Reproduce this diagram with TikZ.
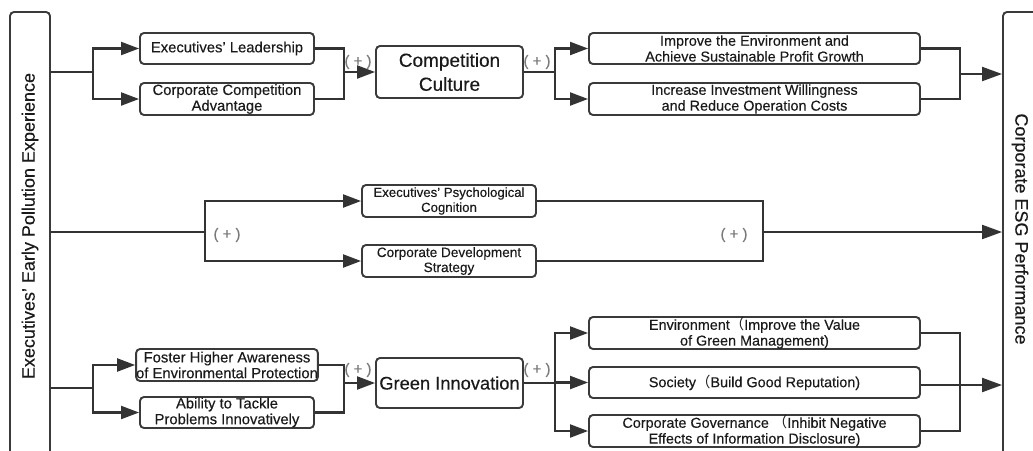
\documentclass[tikz,border=0pt]{standalone}
\usepackage{fontspec}
\setmainfont{Liberation Sans}[FakeBold=0.25]
\newfontfamily\cjk{Noto Sans CJK SC}
\usetikzlibrary{arrows.meta}
\definecolor{boxc}{HTML}{3A3A3A}
\definecolor{linec}{HTML}{333333}
\definecolor{txt}{HTML}{1A1A1A}
\definecolor{plusc}{HTML}{7A7A7A}
\begin{document}
\begin{tikzpicture}[x=1pt,y=-1pt,
  box/.style={draw=boxc, line width=1.9pt, rounded corners=4pt, fill=white, align=center,
    inner sep=0pt, text=txt, font=\fontsize{14.8}{15.8}\selectfont},
  bigbox/.style={box, font=\fontsize{19}{24}\selectfont},
  bar/.style={draw=boxc, line width=1.9pt, rounded corners=4pt, fill=white, inner sep=0pt},
  bartext/.style={text=txt, font=\fontsize{18}{20}\selectfont, inner sep=0pt},
  conn/.style={draw=linec, line width=2.1pt},
  trunk/.style={draw=linec, line width=2.8pt},
  arr/.style={conn, -{Triangle[length=18pt,width=13pt]}},
  bigarr/.style={conn, -{Triangle[length=20pt,width=14pt]}},
  plus/.style={text=plusc, font=\fontsize{15}{15}\selectfont, inner sep=0pt},
]
\useasboundingbox (0,0) rectangle (1033,450);
\fill[white] (0,0) rectangle (1033,450);
\clip (0,0) rectangle (1033,450);

% side bars
\node[bar, minimum width=40pt, minimum height=458pt] (LB) at (30,241) {};
\node[bartext, rotate=90] (LBt) at (30,226) {Executives’ Early Pollution Experience};
\node[bar, minimum width=57pt, minimum height=458pt] (RB) at (1031.5,241) {};
\node[bartext, rotate=-90] (RBt) at (1020,229) {Corporate ESG Performance};

% top group
\node[box, minimum width=174pt, minimum height=31pt] (A1) at (227,48.5) {Executives’ Leadership};
\node[box, minimum width=174pt, minimum height=32pt] (A2) at (227,99) {Corporate Competition\\Advantage};
\node[bigbox, minimum width=147pt, minimum height=52pt] (CC) at (449.5,72) {Competition\\Culture};
\node[box, font=\fontsize{14.4}{15.8}\selectfont, minimum width=331pt, minimum height=31pt] (B1) at (754.5,48.5) {Improve the Environment and\\Achieve Sustainable Profit Growth};
\node[box, font=\fontsize{14.4}{15.8}\selectfont, minimum width=331pt, minimum height=32pt] (B2) at (754.5,99) {Increase Investment Willingness\\and Reduce Operation Costs};

% middle group
\node[box, font=\fontsize{13.2}{15}\selectfont, minimum width=174pt, minimum height=32pt] (M1) at (449,201) {Executives’ Psychological\\Cognition};
\node[box, font=\fontsize{13.6}{15}\selectfont, minimum width=174pt, minimum height=32pt] (M2) at (449,261) {Corporate Development\\Strategy};

% bottom group
\node[box, minimum width=174pt, minimum height=32pt] (C1) at (227,365) {Foster Higher Awareness\\of Environmental Protection};
\node[box, minimum width=174pt, minimum height=31pt] (C2) at (227,412.5) {Ability to Tackle\\Problems Innovatively};
\node[bigbox, font=\fontsize{18.3}{22}\selectfont, minimum width=147pt, minimum height=50pt] (GI) at (449.5,383) {Green Innovation};
\node[box, font=\fontsize{14.4}{15.8}\selectfont, minimum width=331pt, minimum height=32pt] (D1) at (754.5,333) {Environment{\cjk （}Improve the Value\\of Green Management)};
\node[box, font=\fontsize{14.4}{15.8}\selectfont, minimum width=331pt, minimum height=31pt] (D2) at (754.5,382.5) {Society{\cjk （}Build Good Reputation)};
\node[box, font=\fontsize{14.4}{15.8}\selectfont, minimum width=331pt, minimum height=32pt] (D3) at (754.5,431) {Corporate Governance\ {\cjk （}Inhibit Negative\\Effects of Information Disclosure)};

% junction coordinates
\coordinate (jA) at (93,72);
\coordinate (kA) at (344,72);
\coordinate (jB) at (555,72);
\coordinate (kB) at (960,74);
\coordinate (jM) at (205,232);
\coordinate (kM) at (763,232);
\coordinate (jC) at (93,388);
\coordinate (kC) at (344,383);
\coordinate (jD) at (555,383);
\coordinate (kD) at (960,431);

% top connectors
\draw[trunk] (LB.east |- jA) -- (jA);
\draw[arr] (jA) |- (A1.west);
\draw[arr] (jA) |- (A2.west);
\draw[conn] (A1.east) -| (kA);
\draw[conn] (A2.east) -| (kA);
\draw[arr] (kA) -- (CC.west);
\draw[conn] (CC.east) -- (jB);
\draw[arr] (jB) |- (B1.west);
\draw[arr] (jB) |- (B2.west);
\draw[conn] (B1.east) -| (kB);
\draw[conn] (B2.east) -| (kB);
\draw[bigarr] (kB) -- (RB.west |- kB);

% middle connectors
\draw[trunk] (LB.east |- jM) -- (jM);
\draw[arr] (jM) |- (M1.west);
\draw[arr] (jM) |- (M2.west);
\draw[conn] (M1.east) -| (kM);
\draw[conn] (M2.east) -| (kM);
\draw[bigarr] (kM) -- (RB.west |- kM);

% bottom connectors
\draw[trunk] (LB.east |- jC) -- (jC);
\draw[arr] (jC) |- (C1.west);
\draw[arr] (jC) |- (C2.west);
\draw[conn] (C1.east) -| (kC);
\draw[conn] (C2.east) -| (kC);
\draw[arr] (kC) -- (GI.west);
\draw[conn] (GI.east) -- (jD);
\draw[arr] (jD) |- (D1.west);
\draw[arr] (jD) |- (D2.west);
\draw[arr] (jD) |- (D3.west);
\draw[conn] (D1.east) -| (kD) -- (D3.east);
\draw[bigarr] (D2.east |- 0,385) -- (RB.west |- 0,385);

% (+) labels
\node[plus] (p1) at (358,62) {( + )};
\node[plus] (p2) at (537,62) {( + )};
\node[plus] (p3) at (227,235) {( + )};
\node[plus] (p4) at (734,235) {( + )};
\node[plus] (p5) at (358,370) {( + )};
\node[plus] (p6) at (537,370) {( + )};
\end{tikzpicture}
\end{document}
